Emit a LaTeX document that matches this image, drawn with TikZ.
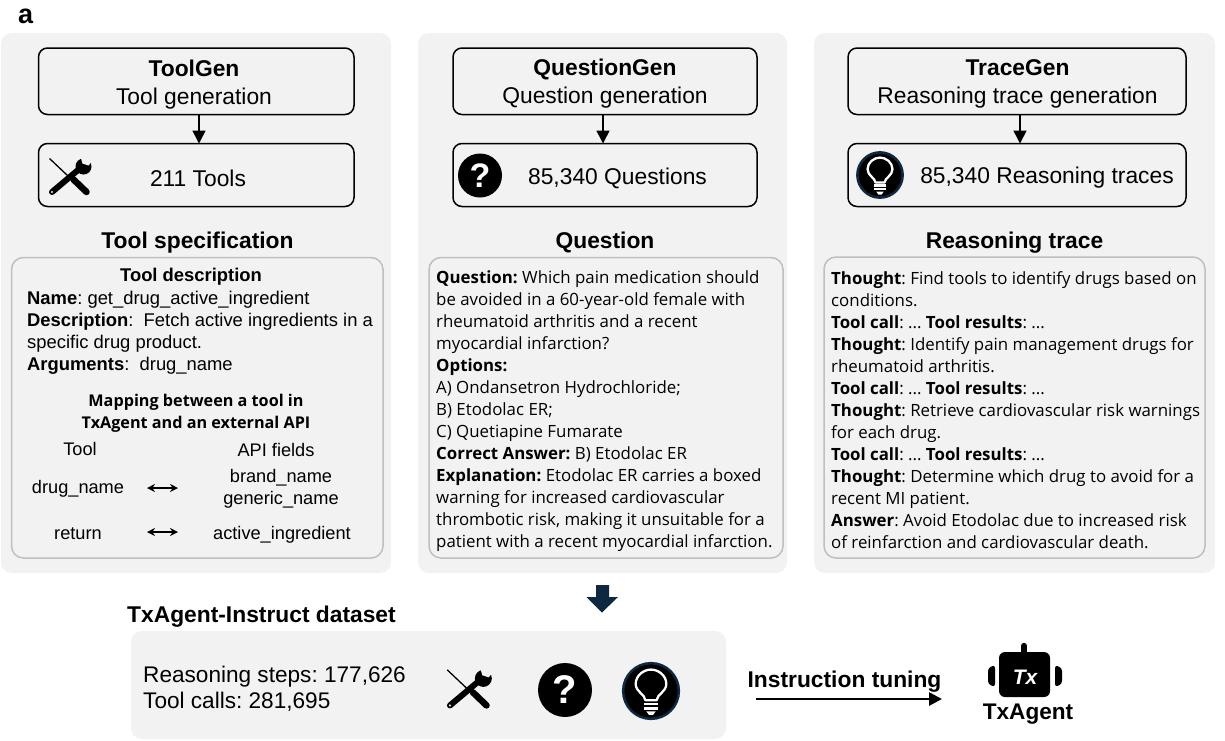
\documentclass[tikz,border=0pt]{standalone}
\usepackage{fontspec}
\setmainfont{Liberation Sans}
\newfontfamily\aptos{Open Sans}
\usetikzlibrary{arrows.meta}
\definecolor{panelgray}{HTML}{F2F2F2}
\definecolor{edgegray}{HTML}{BFBFBF}
\definecolor{navy}{HTML}{0E2841}
\newcommand{\fs}[2]{\fontsize{#1}{#2}\selectfont}
\frenchspacing
\newcommand{\toolicon}[3]{%
\begin{scope}[shift={(#1,#2)},scale=#3]
 \draw[black,line width=1.3] (-20,-18) -- (-2,-1);
 \draw[black,line width=6.5,line cap=round] (4,3) -- (17,15.5);
 \draw[black,line width=6,line cap=round] (-17.5,15.5) -- (8,-6);
 \fill[panelgray] (-17.5,15.5) circle (1.1);
 \fill[black] (14,-10) circle (8);
 \fill[panelgray] (11,-20) -- (24,-17) -- (19,-11) -- (13,-13) -- cycle;
\end{scope}}
\newcommand{\qicon}[4]{%
\fill[black] (#1,#2) circle (#3);
\node[font=\fs{#4}{#4}\bfseries,text=white,inner sep=0pt] at (#1,#2) {?};}
\newcommand{\bulbicon}[3]{%
\begin{scope}[shift={(#1,#2)},scale=#3]
 \fill[black,draw=navy,line width=2.5] (0,0) circle (27.3);
 \draw[white,line width=2.3,line join=round] (-5.5,9) .. controls (-6,3) and (-15,1) .. (-15,-7) .. controls (-15,-15) and (-7.5,-21) .. (0,-21) .. controls (7.5,-21) and (15,-15) .. (15,-7) .. controls (15,1) and (6,3) .. (5.5,9) -- cycle;
 \draw[white,line width=2.4] (-7,12.5) -- (7,12.5);
 \draw[white,line width=2.4] (-7,17) -- (7,17);
 \fill[white] (-4.5,20) -- (4.5,20) -- (2,23.5) -- (-2,23.5) -- cycle;
\end{scope}}
\tikzset{
 x=1pt,y=-1pt,
 panel/.style={fill=panelgray,draw=none,rounded corners=11},
 genbox/.style={draw=black,line width=1.5,rounded corners=9,fill=panelgray},
 textbox/.style={draw=edgegray,line width=1.5,rounded corners=12,fill=panelgray},
 heading/.style={font=\fs{22.8}{27}\bfseries,inner sep=0pt,anchor=base},
 gentext/.style={font=\fs{22.8}{28},align=center,inner sep=0pt},
 countlabel/.style={font=\fs{22.8}{27},inner sep=0pt},
 flow/.style={-{Triangle[length=13,width=13]},line width=1.6},
 body/.style={font=\fs{18.4}{22},align=left,anchor=north west,inner sep=0pt},
 abody/.style={font=\aptos\fs{16.85}{22},align=left,anchor=north west,inner sep=0pt},
 mapbold/.style={font=\aptos\fs{16.2}{22}\bfseries,align=center,inner sep=0pt},
 maptext/.style={font=\fs{18.2}{22},align=center,inner sep=0pt},
 twoway/.style={{Stealth[length=8,width=8]}-{Stealth[length=8,width=8]},line width=1.2},
}
\begin{document}
\begin{tikzpicture}
\useasboundingbox (0,0) rectangle (1225,740);
\fill[white] (0,0) rectangle (1225,740);
\node[font=\fs{27}{27}\bfseries,inner sep=0pt,anchor=base west] (lbl) at (18,23) {a};
% panels
\path[panel] (1,33) rectangle (391,573);
\path[panel] (418,33) rectangle (787,573);
\path[panel] (814,33) rectangle (1215,573);
\path[panel] (131,631) rectangle (726,739);
% ToolGen
\draw[genbox] (38.5,48) rectangle (354,114.5);
\coordinate (tg) at (199,114.5);
\node[gentext] (tgt) at (194,84.5) {\textbf{ToolGen}\\Tool generation};
\draw[genbox] (38.5,143.5) rectangle (354,206.5);
\coordinate (tc) at (199,143.5);
\draw[flow] (tg) -- (tc);
\node[countlabel] (tct) at (198,178) {211 Tools};
\toolicon{69.5}{176.5}{1}
\node[heading] (th) at (197.5,248) {Tool specification};
\draw[textbox] (11.5,257.5) rectangle (383,558);
\node[font=\fs{18.4}{22}\bfseries,inner sep=0pt] (td) at (191,276.5) {Tool description};
\node[body] (tb) at (27,291) {\textbf{Name}: get\_drug\_active\_ingredient\\\textbf{Description}:\ \ Fetch active ingredients in a\\specific drug product.\\\textbf{Arguments}:\ \ drug\_name};
\node[mapbold] (mb) at (196,413) {Mapping between a tool in\\TxAgent and an external API};
\node[maptext] (m1) at (80,449) {Tool};
\node[maptext] (m2) at (276,450) {API fields};
\node[maptext] (m3) at (78,488.5) {drug\_name};
\node[maptext] (m4) at (281,488.5) {brand\_name\\generic\_name};
\node[maptext] (m5) at (78,533.5) {return};
\node[maptext] (m6) at (282,534.5) {active\_ingredient};
\coordinate (a1l) at (147,488); \coordinate (a1r) at (178,488);
\coordinate (a2l) at (147,532); \coordinate (a2r) at (178,532);
\draw[twoway] (a1l) -- (a1r);
\draw[twoway] (a2l) -- (a2r);
% QuestionGen
\draw[genbox] (453,48) rectangle (757,114.5);
\coordinate (qg) at (603,114.5);
\node[gentext] (qgt) at (605,84) {\textbf{QuestionGen}\\Question generation};
\draw[genbox] (453,143.5) rectangle (757,206.5);
\coordinate (qc) at (603,143.5);
\draw[flow] (qg) -- (qc);
\node[countlabel] (qct) at (617.5,178) {85,340 Questions};
\qicon{480}{175.5}{22}{34}
\node[heading] (qh) at (605,248) {Question};
\draw[textbox] (429,257.5) rectangle (783,558);
\node[abody] (qb) at (436,270) {\textbf{Question:} Which pain medication should\\be avoided in a 60-year-old female with\\rheumatoid arthritis and a recent\\myocardial infarction?\\\textbf{Options:}\\A) Ondansetron Hydrochloride;\\B) Etodolac ER;\\C) Quetiapine Fumarate\\\textbf{Correct Answer:} B) Etodolac ER\\\textbf{Explanation:} Etodolac ER carries a boxed\\warning for increased cardiovascular\\thrombotic risk, making it unsuitable for a\\patient with a recent myocardial infarction.};
% TraceGen
\draw[genbox] (848,48) rectangle (1186,114.5);
\coordinate (rg) at (1020,114.5);
\node[gentext] (rgt) at (1017.5,84) {\textbf{TraceGen}\\Reasoning trace generation};
\draw[genbox] (848,143.5) rectangle (1186,206.5);
\coordinate (rc) at (1020,143.5);
\draw[flow] (rg) -- (rc);
\node[countlabel] (rct) at (1047,178) {85,340 Reasoning traces};
\bulbicon{880}{175}{0.83}
\node[heading] (rh) at (1014.5,248) {Reasoning trace};
\draw[textbox] (824,257) rectangle (1205,558);
\node[abody] (rb) at (831,271) {\textbf{Thought}: Find tools to identify drugs based on\\conditions.\\\textbf{Tool call}: ... \textbf{Tool results}: ...\\\textbf{Thought}: Identify pain management drugs for\\rheumatoid arthritis.\\\textbf{Tool call}: ... \textbf{Tool results}: ...\\\textbf{Thought}: Retrieve cardiovascular risk warnings\\for each drug.\\\textbf{Tool call}: ... \textbf{Tool results}: ...\\\textbf{Thought}: Determine which drug to avoid for a\\recent MI patient.\\\textbf{Answer}: Avoid Etodolac due to increased risk\\of reinfarction and cardiovascular death.};
% block arrow
\fill[navy] (596,585) -- (609,585) -- (609,597) -- (618,597) -- (602,612.5) -- (586.5,597) -- (596,597) -- cycle;
% dataset
\node[font=\fs{22.8}{27}\bfseries,inner sep=0pt,anchor=base west] (dh) at (127,622) {TxAgent-Instruct dataset};
\node[font=\fs{22.6}{25.5},align=left,inner sep=0pt,anchor=north west] (ds) at (143,666) {Reasoning steps: 177,626\\Tool calls: 281,695};
\toolicon{468.5}{689}{1.06}
\qicon{565}{690}{27}{40}
\bulbicon{651}{691}{1.02}
\node[font=\fs{22.8}{27}\bfseries,inner sep=0pt,anchor=base] (it) at (844.5,687.5) {Instruction tuning};
\coordinate (il) at (756,699); \coordinate (ir) at (942,699);
\draw[-{Triangle[length=13,width=13]},line width=2.7] (il) -- (ir);
% TxAgent icon
\draw[black,line width=6.5,line cap=round] (1024,646) -- (1024,656);
\fill[black,rounded corners=6] (999,652) rectangle (1050,697);
\fill[black,rounded corners=3] (995,665) -- (988,668) -- (988,684) -- (995,687) -- cycle;
\fill[black,rounded corners=3] (1055,665) -- (1062,668) -- (1062,684) -- (1055,687) -- cycle;
\node[font=\fs{21}{21}\bfseries\itshape,text=white,inner sep=0pt] (tx) at (1025,677) {Tx};
\node[font=\fs{22.6}{27}\bfseries,inner sep=0pt,anchor=base] (ta) at (1028,719) {TxAgent};
\end{tikzpicture}
\end{document}
